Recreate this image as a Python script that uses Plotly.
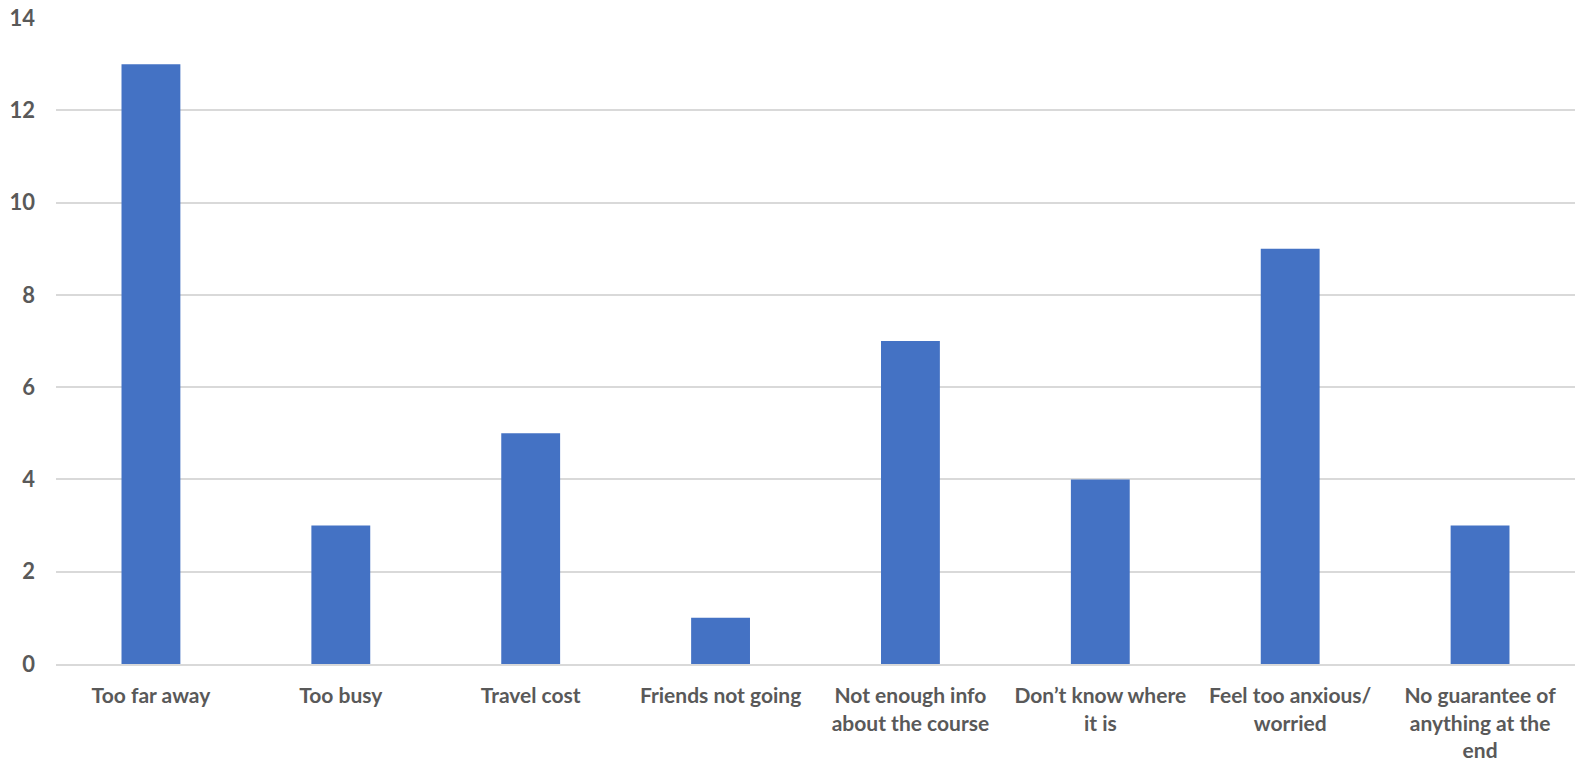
import plotly.graph_objects as go

categories = [
    "Too far away",
    "Too busy",
    "Travel cost",
    "Friends not going",
    "Not enough info<br>about the course",
    "Don\u2019t know where<br>it is",
    "Feel too anxious/<br>worried",
    "No guarantee of<br>anything at the<br>end",
]
counts = [13, 3, 5, 1, 7, 4, 9, 3]
y_ticks = [0, 2, 4, 6, 8, 10, 12, 14]

fig = go.Figure(
    go.Bar(
        x=categories,
        y=counts,
        marker=dict(color="#4472C4", line=dict(width=0)),
    )
)

fig.update_layout(
    width=1575,
    height=762,
    margin=dict(l=56, r=0, t=18, b=98),
    paper_bgcolor="white",
    plot_bgcolor="white",
    bargap=0.69,
    showlegend=False,
    font=dict(family="Lato, 'Open Sans', sans-serif", size=21, color="#595959"),
)

fig.update_xaxes(
    showline=True,
    linecolor="#d9d9d9",
    linewidth=2,
    showgrid=False,
    ticks="",
    ticklabelstandoff=12,
    tickfont=dict(family="Lato", size=21, color="#595959", weight="bold"),
)

fig.update_yaxes(
    range=[0, 14],
    tickvals=y_ticks,
    showgrid=True,
    gridcolor="#d9d9d9",
    gridwidth=2,
    zeroline=False,
    showline=False,
    ticks="",
    ticklabelstandoff=20,
    tickfont=dict(family="Lato", size=22, color="#595959", weight="bold"),
)

fig.write_html("out.html")
